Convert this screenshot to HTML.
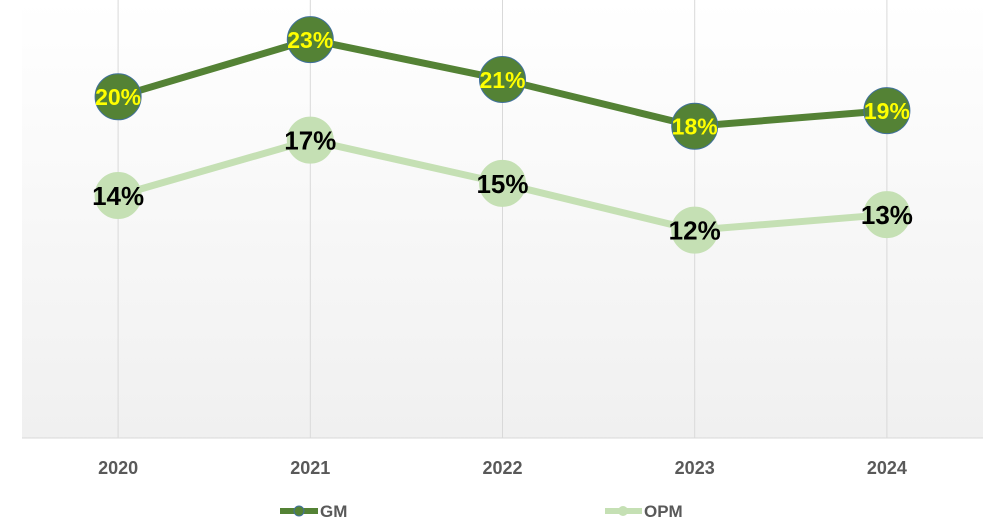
<!DOCTYPE html>
<html><head><meta charset="utf-8"><style>
html,body{margin:0;padding:0;background:#fff;}
svg{display:block;font-family:"Liberation Sans",sans-serif;}
</style></head><body>
<svg id="chart" width="1001" height="527">
<defs><linearGradient id="bg" x1="0" y1="0" x2="0" y2="1"><stop offset="0" stop-color="#ffffff"/><stop offset="1" stop-color="#f0f0f0"/></linearGradient></defs>
<rect x="22" y="0" width="961" height="438" fill="url(#bg)"/>
<g id="grid"></g><g id="axis"></g><g id="series"></g><g id="labels"></g>
<g>
<g>
<line x1="280" y1="511" x2="318" y2="511" stroke="#548235" stroke-width="6"/>
<circle cx="299" cy="511" r="5" fill="#548235" stroke="#41719c" stroke-width="1"/>
<text x="320" y="517" font-size="17" font-weight="bold" fill="#595959">GM</text></g>
<g>
<line x1="605" y1="511" x2="642" y2="511" stroke="#c5e0b4" stroke-width="6"/>
<circle cx="623" cy="511" r="5" fill="#c5e0b4"/>
<text x="644" y="517" font-size="17" font-weight="bold" fill="#595959">OPM</text></g>
</g>
</svg>
<script>
const categories=["2020","2021","2022","2023","2024"];
const gmValues=[19.7,23.0,20.7,18.0,18.9];
const opmValues=[14.0,17.2,14.7,12.0,12.9];
const gmLabels=["20%","23%","21%","18%","19%"];
const opmLabels=["14%","17%","15%","12%","13%"];
const NS="http://www.w3.org/2000/svg";
const x0=22,x1=983,yBase=438,yTop=5,yMax=25;
const step=(x1-x0)/categories.length;
function xs(i){return x0+step*(i+0.5);}
function ys(v){return yBase-(v/yMax)*(yBase-yTop);}
function mk(tag,attrs,parent){const e=document.createElementNS(NS,tag);for(const k in attrs)e.setAttribute(k,attrs[k]);parent.appendChild(e);return e;}
const grid=document.getElementById('grid'),axis=document.getElementById('axis'),series=document.getElementById('series'),labels=document.getElementById('labels');
categories.forEach((c,i)=>{
 const g=mk('line',{x1:xs(i),x2:xs(i),y1:0,y2:yBase,stroke:'#d9d9d9','stroke-width':1},grid);
 
 
 const t=mk('text',{x:xs(i),y:474,'text-anchor':'middle','font-size':18,'font-weight':'bold',fill:'#595959'},axis);
 t.textContent=c;
 
 
});
const ax=mk('line',{x1:x0,x2:x1,y1:yBase,y2:yBase,stroke:'#d9d9d9','stroke-width':1},axis);


function draw(vals,labs,name,color,stroke,lblColor,fs){
 const p=mk('polyline',{points:vals.map((v,i)=>xs(i)+','+ys(v)).join(' '),fill:'none',stroke:color,'stroke-width':7,'stroke-linejoin':'round'},series);
 
 
 vals.forEach((v,i)=>{
  const c=mk('circle',{cx:xs(i),cy:ys(v),r:23,fill:color,stroke:stroke,'stroke-width':1},series);
  
  
  const t=mk('text',{x:xs(i),y:ys(v)+fs*0.36,'text-anchor':'middle','font-size':fs,'font-weight':'bold',fill:lblColor},labels);
  t.textContent=labs[i];
  
  
 });
}
draw(opmValues,opmLabels,'opm','#c5e0b4','#c5e0b4','#000000',26);
draw(gmValues,gmLabels,'gm','#548235','#41719c','#ffff00',23);
</script>
</body></html>
